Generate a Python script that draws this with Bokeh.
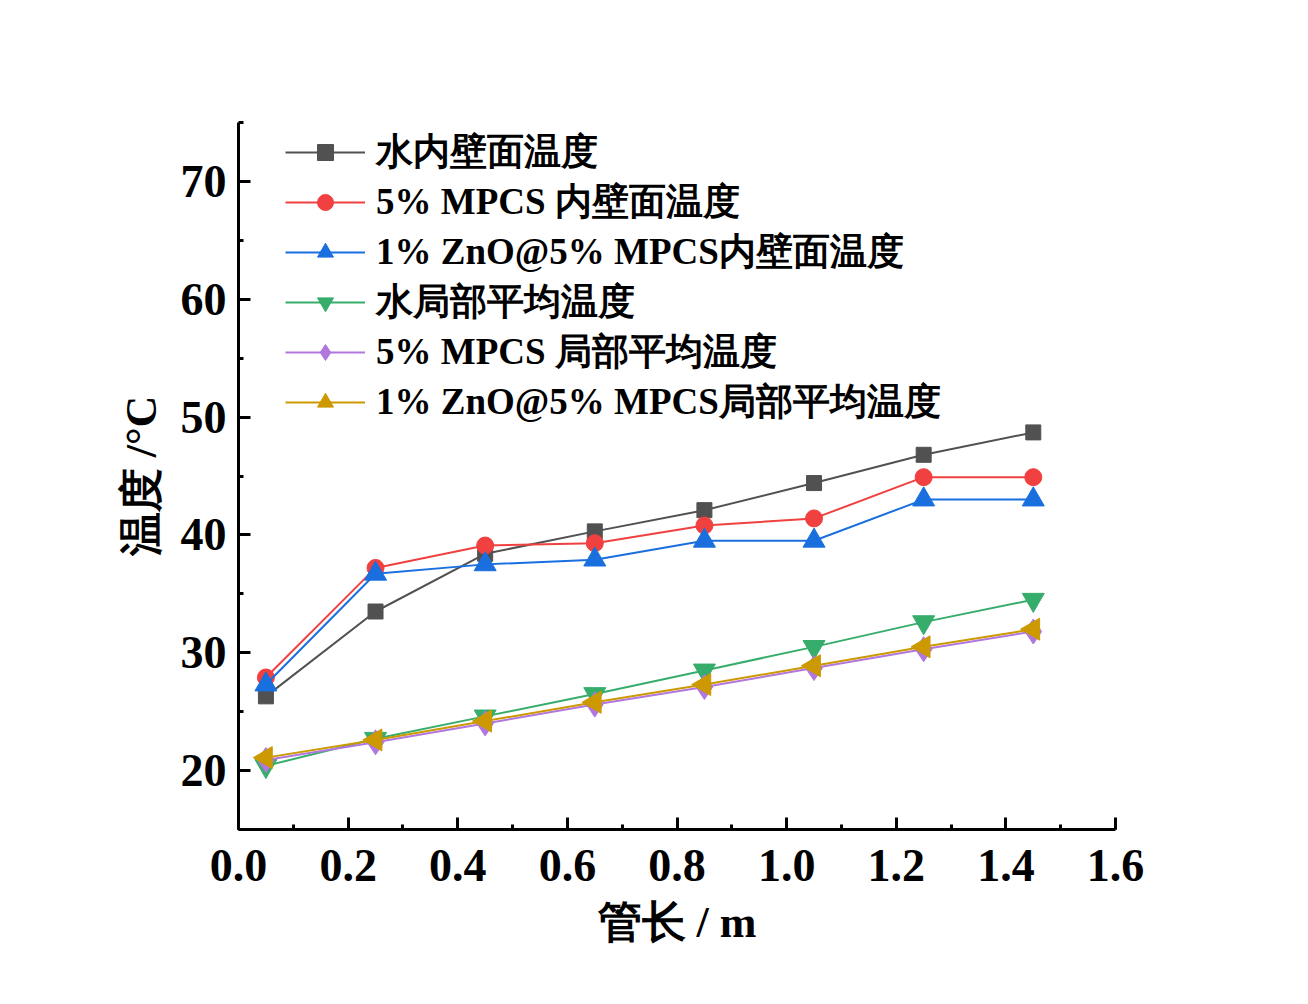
import math
from bokeh.plotting import figure
from bokeh.models import (Range1d, SingleIntervalTicker, NumeralTickFormatter,
                          Legend, LegendItem)
from bokeh.embed import file_html
from bokeh.resources import INLINE

# ---- data ----
x_len = [0.05, 0.25, 0.45, 0.65, 0.85, 1.05, 1.25, 1.45]
water_wall = [26.3, 33.5, 38.4, 40.3, 42.1, 44.4, 46.8, 48.7]
mpcs_wall = [27.9, 37.2, 39.1, 39.3, 40.8, 41.4, 44.9, 44.9]
zno_wall = [27.3, 36.7, 37.5, 37.9, 39.5, 39.5, 43.0, 43.0]
water_avg = [20.4, 22.7, 24.6, 26.5, 28.5, 30.5, 32.6, 34.5]
mpcs_avg = [20.9, 22.4, 24.0, 25.6, 27.1, 28.7, 30.3, 31.8]
zno_avg = [21.1, 22.6, 24.2, 25.8, 27.3, 28.9, 30.5, 32.0]

names = ["水内壁面温度", "5% MPCS 内壁面温度", "1% ZnO@5% MPCS内壁面温度",
         "水局部平均温度", "5% MPCS 局部平均温度", "1% ZnO@5% MPCS局部平均温度"]
series = [water_wall, mpcs_wall, zno_wall, water_avg, mpcs_avg, zno_avg]
colors = ["#515151", "#F14040", "#1A6FDF", "#37AD6B", "#B177DE", "#CC9900"]
markers = ["square", "circle", "triangle", "inverted_triangle", "diamond", "triangle"]
sizes = [15, 17, 22, 22, 25, 22]
angles = [0, 0, 0, 0, 0, 90]

FONT = "'Liberation Serif'"

p = figure(frame_width=877, frame_height=707, output_backend="svg",
           toolbar_location=None, x_range=Range1d(0, 1.6), y_range=Range1d(15, 75),
           min_border_left=238, min_border_top=122, min_border_right=170,
           min_border_bottom=160)
p.outline_line_color = None
p.grid.visible = False
p.background_fill_color = "white"
p.border_fill_color = "white"

items = []
for name, ys, c, m, s, a in zip(names, series, colors, markers, sizes, angles):
    l = p.line(x_len, ys, line_color=c, line_width=2)
    sc = p.scatter(x_len, ys, marker=m, size=s, angle=a, angle_units="deg",
                   fill_color=c, line_color=c)
    items.append(LegendItem(label=name, renderers=[l, sc]))

p.xaxis.ticker = SingleIntervalTicker(interval=0.2, num_minor_ticks=2)
p.yaxis.ticker = SingleIntervalTicker(interval=10, num_minor_ticks=2)
p.xaxis.formatter = NumeralTickFormatter(format="0.0")
p.yaxis.formatter = NumeralTickFormatter(format="0")

for ax in (p.xaxis, p.yaxis):
    ax.axis_line_width = 3
    ax.axis_line_color = "black"
    ax.major_tick_line_width = 3
    ax.minor_tick_line_width = 3
    ax.major_tick_in = 12
    ax.major_tick_out = 0
    ax.minor_tick_in = 5
    ax.minor_tick_out = 0
    ax.major_label_text_font = FONT
    ax.major_label_text_font_style = "bold"
    ax.major_label_text_font_size = "46px"
    ax.major_label_text_color = "black"
    ax.axis_label_text_font = FONT
    ax.axis_label_text_font_style = "bold"
    ax.axis_label_text_font_size = "44px"
    ax.axis_label_text_color = "black"

p.xaxis.axis_label = "管长 / m"
p.yaxis.axis_label = "温度 /°C"
p.xaxis.major_label_standoff = 20
p.yaxis.major_label_standoff = 12
p.xaxis.axis_label_standoff = 14
p.yaxis.axis_label_standoff = 12

legend = Legend(items=items, location=(47, 402))
legend.label_text_font = FONT
legend.label_text_font_style = "bold"
legend.label_text_font_size = "37px"
legend.label_text_color = "black"
legend.glyph_width = 80
legend.glyph_height = 40
legend.label_height = 40
legend.spacing = 0
legend.padding = 0
legend.margin = 0
legend.label_standoff = 11
legend.border_line_color = None
legend.background_fill_alpha = 0
p.add_layout(legend)

open("out.html", "w").write(file_html(p, INLINE))
